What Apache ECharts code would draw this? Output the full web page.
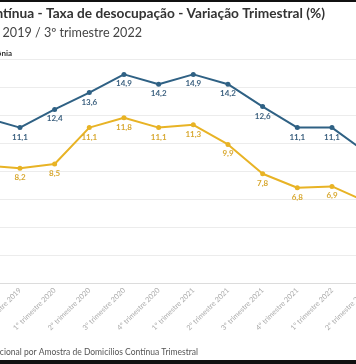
<!DOCTYPE html>
<html>
<head>
<meta charset="utf-8">
<script src="https://cdn.jsdelivr.net/npm/echarts@6/dist/echarts.min.js"></script>
<style>
html,body{margin:0;padding:0;background:#fff;overflow:hidden;width:356px;height:364px;position:relative;}
#c{position:absolute;left:-100px;top:0;width:556px;height:364px;}
#topbar{position:absolute;left:0;top:0;width:356px;height:2px;background:#111;}
#botbar{position:absolute;left:0;top:360px;width:356px;height:4px;background:#111;}
</style>
</head>
<body>
<div id="c"></div>
<div id="topbar"></div>
<div id="botbar"></div>
<script>
const titleText = 'PNAD Contínua - Taxa de desocupação - Variação Trimestral (%)';
const subtitleText = '3º trimestre 2019 / 3º trimestre 2022';
const sourceText = 'Fonte: IBGE - Pesquisa Nacional por Amostra de Domicílios Contínua Trimestral';
const categories = [
  '3º trimestre 2019','4º trimestre 2019',
  '1º trimestre 2020','2º trimestre 2020','3º trimestre 2020','4º trimestre 2020',
  '1º trimestre 2021','2º trimestre 2021','3º trimestre 2021','4º trimestre 2021',
  '1º trimestre 2022','2º trimestre 2022','3º trimestre 2022'
];
const seriesNames = ['Brasil', 'Rondônia'];
const brasil = [11.8, 11.1, 12.4, 13.6, 14.9, 14.2, 14.9, 14.2, 12.6, 11.1, 11.1, 9.3, 8.7];
const rondonia = [8.4, 8.2, 8.5, 11.1, 11.8, 11.1, 11.3, 9.9, 7.8, 6.8, 6.9, 5.8, 5.2];
const yTicks = [0, 2, 4, 6, 8, 10, 12, 14, 16];

const FONT = 'Lato';
const fmt = p => p.value.toFixed(1).replace('.', ',');

const chart = echarts.init(document.getElementById('c'), null, {renderer: 'canvas'});
function mkSeries(name, data, color, labelColor) {
  return {
    name, type: 'line', data,
    symbol: 'circle', symbolSize: 5,
    lineStyle: {color, width: 2},
    itemStyle: {color},
    label: {
      show: true, position: 'bottom', distance: 3,
      formatter: fmt, color: labelColor,
      fontFamily: FONT, fontSize: 8, fontWeight: 'bold'
    },
    animation: false
  };
}
chart.setOption({
  animation: false,
  title: [
    {text: titleText, right: 131, top: 7, padding: 0,
     textStyle: {fontFamily: FONT, fontSize: 13.7, fontWeight: 'bold', color: '#333'}},
    {text: subtitleText, right: 314, top: 26, padding: 0,
     textStyle: {fontFamily: FONT, fontSize: 12.6, fontWeight: 'normal', color: '#444'}},
    {text: sourceText, right: 258, top: 348, padding: 0,
     textStyle: {fontFamily: FONT, fontSize: 8.5, fontWeight: 'normal', color: '#555'}}
  ],
  legend: {
    data: seriesNames, right: 444, top: 49, icon: 'circle', padding: 0,
    itemWidth: 7, itemHeight: 7, itemGap: 10,
    textStyle: {fontFamily: FONT, fontSize: 8, fontWeight: 'bold', color: '#333'}
  },
  grid: {left: 85.3, right: 54.7, top: 59, bottom: 81},
  xAxis: {
    type: 'category', data: categories, boundaryGap: false,
    axisLine: {lineStyle: {color: '#dcdcdc'}},
    axisTick: {show: false},
    axisLabel: {rotate: 45, margin: 6, fontFamily: FONT, fontSize: 7.3, color: '#aaa', interval: 0}
  },
  yAxis: {
    type: 'value', min: yTicks[0], max: yTicks[yTicks.length - 1], interval: 2,
    axisLine: {show: false}, axisTick: {show: false},
    axisLabel: {show: true, fontFamily: FONT, fontSize: 8, color: '#999'},
    splitLine: {lineStyle: {color: '#ececec'}}
  },
  series: [
    mkSeries(seriesNames[0], brasil, '#2f6184', '#3a5f7e'),
    mkSeries(seriesNames[1], rondonia, '#e8b325', '#d8a830')
  ]
});
</script>
</body>
</html>
